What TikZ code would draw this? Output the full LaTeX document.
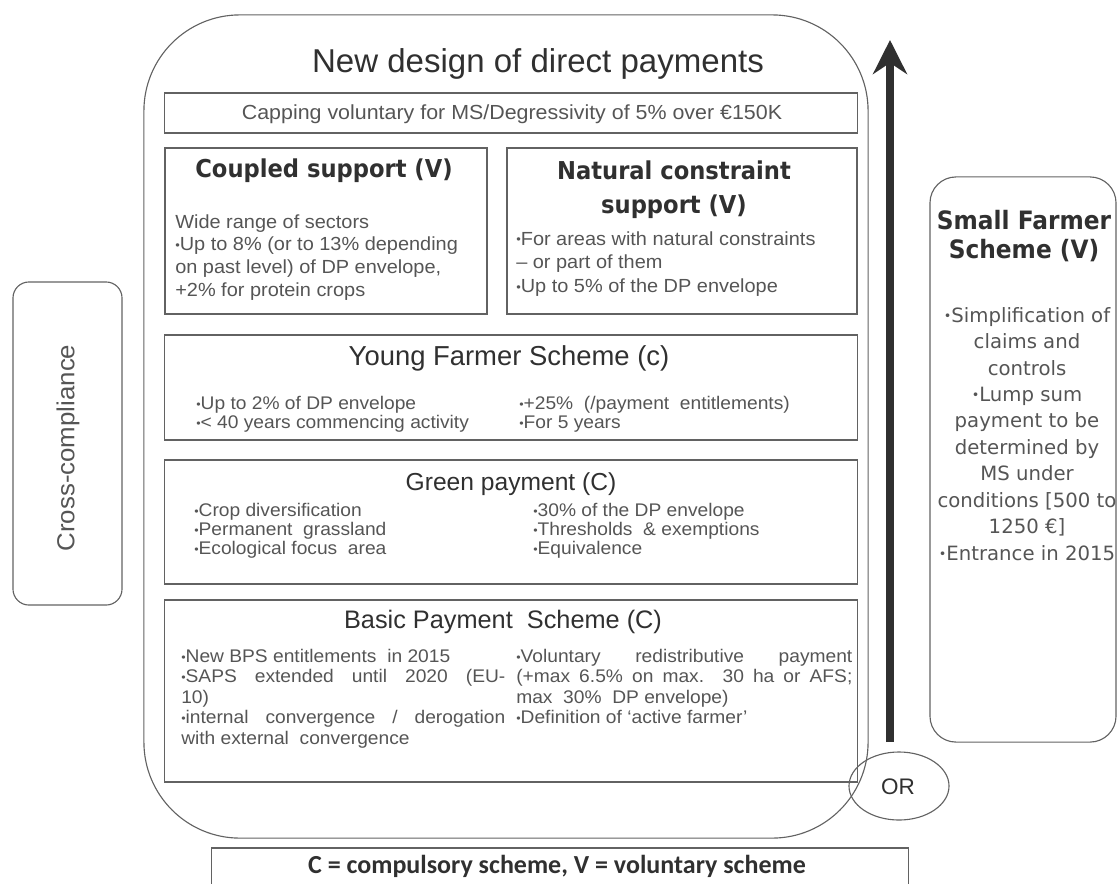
\documentclass[tikz,border=0pt]{standalone}
\usepackage{fontspec}
\usepackage{graphicx}
\setmainfont{Liberation Sans}
\newfontfamily\bodyfont[FakeStretch=1.05]{Liberation Sans}
\newfontfamily\tahfont[FakeStretch=0.92]{DejaVu Sans}
\newfontfamily\verdfont{DejaVu Sans}
\newfontfamily\calfont{Carlito}
\usetikzlibrary{positioning,arrows.meta,shapes.geometric}

\definecolor{inkgray}{HTML}{303030}
\definecolor{linegray}{HTML}{626262}
\definecolor{bodygray}{HTML}{555555}

\newcommand{\bul}{\raisebox{0.15ex}{\scalebox{0.65}{•}}}
\newcommand{\jline}[2]{\makebox[#1][s]{#2}}

\tikzset{
  panel/.style={draw=linegray, line width=0.8pt, inner sep=0pt},
  headtext/.style={text=inkgray, inner sep=0pt, font=\fontsize{18}{21}\selectfont},
  boldhead/.style={text=inkgray, inner sep=0pt, align=center, font=\tahfont\bfseries\fontsize{17.5}{24}\selectfont},
  bodytext/.style={text=bodygray, inner sep=0pt, anchor=north west, align=left, font=\bodyfont\fontsize{13}{13.5}\selectfont},
}

\begin{document}
\begin{tikzpicture}[x=0.025cm, y=-0.025cm]
            \useasboundingbox (0,0) rectangle (1117,883);
            % outer frame and side boxes
            \node[panel, rounded corners=2.4cm, minimum width=18.1cm, minimum height=20.575cm] (frame) at (506,426.5) {};
            \node[panel, rounded corners=0.4cm, minimum width=2.725cm, minimum height=8.075cm] (cross) at (67.5,443.5) {};
            \node[text=bodygray, rotate=90, font=\bodyfont\fontsize{17.5}{20}\selectfont] (crosstxt) at (68,448) {Cross-compliance};
            \node[panel, rounded corners=0.65cm, minimum width=4.65cm, minimum height=14.125cm] (small) at (1023,459.5) {};
            \node[panel, ellipse, minimum width=2.5cm, minimum height=1.7cm] (orsign) at (899,786) {};
            \node[text=inkgray, font=\fontsize{16}{18}\selectfont] (ortxt) at (898,787) {OR};
            \node[panel, minimum width=17.4cm, minimum height=1.0cm] (legend) at (560,868) {};
            \node[text=inkgray, font=\calfont\bfseries\fontsize{18.5}{21}\selectfont] (legendtxt) at (557,866) {C = compulsory scheme, V = voluntary scheme};

            % arrow
            \coordinate (arrowlow) at (890,742);
            \coordinate (arrowtop) at (890,40);
            \draw[line width=5pt, draw=inkgray, -{Stealth[length=0.85cm, width=0.85cm, inset=0.28cm]}] (arrowlow) -- (arrowtop);

            % title and capping
            \node[headtext, font=\fontsize{23.5}{27}\selectfont] (title) at (538,64) {New design of direct payments};
            \node[panel, minimum width=17.3cm, minimum height=1.0cm] (capping) at (511,113) {};
            \node[headtext, text=bodygray, font=\bodyfont\fontsize{14.5}{17}\selectfont] (cappingtxt) at (512,114) {Capping voluntary for MS/Degressivity of 5\% over €150K};

            % coupled and natural constraint
            \node[panel, minimum width=8.05cm, minimum height=4.15cm] (coupled) at (326,231) {};
            \node[boldhead] (coupledhd) at (324,171) {Coupled support (V)};
            \node[bodytext, font=\bodyfont\fontsize{13.5}{16.3}\selectfont] (coupledtxt) at (175,214) {Wide range of sectors\\ \bul Up to 8\% (or to 13\% depending\\ on past level) of DP envelope,\\ +2\% for protein crops};
            \node[panel, minimum width=8.75cm, minimum height=4.15cm] (natural) at (682,231) {};
            \node[boldhead] (naturalhd) at (674,190) {Natural constraint\\ support (V)};
            \node[bodytext, font=\bodyfont\fontsize{13.5}{17}\selectfont] (naturaltxt) at (516,231) {\bul For areas with natural constraints\\ – or part of them\\ \bul Up to 5\% of the DP envelope};

            % young farmer
            \node[panel, minimum width=17.3cm, minimum height=2.625cm] (young) at (511,387.5) {};
            \node[headtext, font=\fontsize{19.5}{22}\selectfont] (younghd) at (509,358) {Young Farmer Scheme (c)};
            \node[bodytext] (youngleft) at (196,396) {\bul Up to 2\% of DP envelope\\ \bul < 40 years commencing activity};
            \node[bodytext] (youngright) at (519,396) {\bul +25\% \ (/payment \ entitlements)\\ \bul For 5 years};

            % green payment
            \node[panel, minimum width=17.3cm, minimum height=3.1cm] (green) at (511,522) {};
            \node[headtext, font=\fontsize{17.5}{20}\selectfont] (greenhd) at (511,484) {Green payment (C)};
            \node[bodytext] (greenleft) at (194,503) {\bul Crop diversification\\ \bul Permanent \ grassland\\ \bul Ecological focus \ area};
            \node[bodytext] (greenright) at (533,503) {\bul 30\% of the DP envelope\\ \bul Thresholds \ \& exemptions\\ \bul Equivalence};

            % basic payment
            \node[panel, minimum width=17.3cm, minimum height=4.55cm] (basic) at (511,691) {};
            \node[headtext] (basichd) at (503,622) {Basic Payment \ Scheme (C)};
            \node[bodytext, font=\bodyfont\fontsize{13}{14.5}\selectfont] (basicleft) at (181,649) {\bul New BPS entitlements \ in 2015\\ \jline{8.1cm}{\bul SAPS extended until 2020 (EU-}\\ 10)\\ \jline{8.1cm}{\bul internal convergence / derogation}\\ with external \ convergence};
            \node[bodytext, font=\bodyfont\fontsize{13}{14.5}\selectfont] (basicright) at (516,649) {\jline{8.4cm}{\bul Voluntary redistributive payment}\\ \jline{8.4cm}{(+max 6.5\% on max. 30 ha or AFS;}\\ max \ 30\% \ DP envelope)\\ \bul Definition of ‘active farmer’};

            % small farmer scheme
            \node[boldhead, font=\tahfont\bfseries\fontsize{18}{20}\selectfont] (smallhd) at (1024,236) {Small Farmer\\ Scheme (V)};
            \node[text=bodygray, align=center, inner sep=0pt, anchor=north, font=\verdfont\fontsize{14}{18.8}\selectfont] (smalltxt) at (1027,307) {\bul Simplification of\\ claims and\\ controls\\ \bul Lump sum\\ payment to be\\ determined by\\ MS under\\ conditions [500 to\\ 1250 €]\\ \bul Entrance in 2015};
        \end{tikzpicture}
\end{document}
